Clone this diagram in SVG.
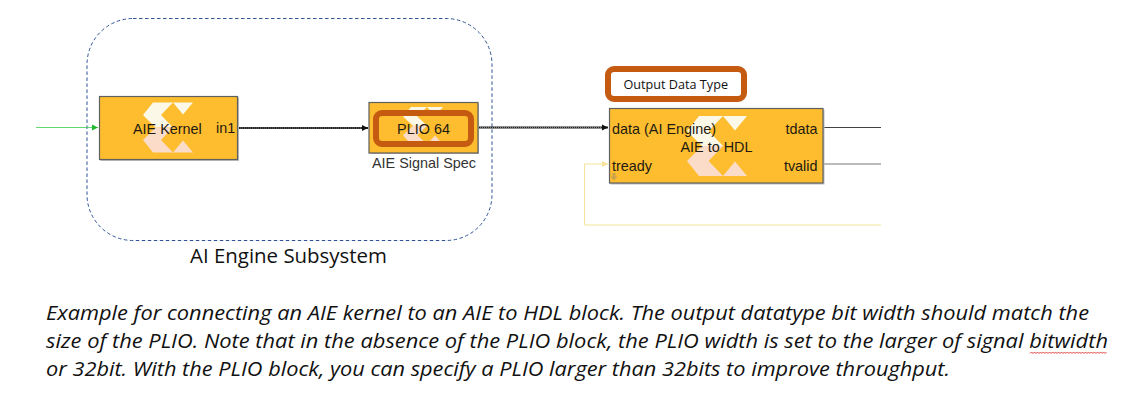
<svg xmlns="http://www.w3.org/2000/svg" width="1148" height="404" viewBox="0 0 1148 404">
<style>
.block{fill:#fdbd2f;stroke:#5f5f5f;stroke-width:1.2}
.shadow{fill:#bdbdbd}
.lbl{font-family:"Liberation Sans",Arial,sans-serif;font-size:14.4px;fill:#1f1a10}
.hl{fill:none;stroke:#c55a11;stroke-width:6}
.para{font-family:"Open Sans","Noto Sans",sans-serif;font-style:italic;font-size:19.5px;fill:#111}
.cal{font-family:"Open Sans","Noto Sans",sans-serif;fill:#111}
.wire{fill:none;stroke:#222;stroke-width:1.8}
.dots{fill:none;stroke:#aaa;stroke-width:.7;stroke-dasharray:1 1}
</style>
<defs>
<marker id="ab" markerWidth="7" markerHeight="7" refX="6" refY="3.500" orient="auto" markerUnits="userSpaceOnUse"><path d="M0 .5L6 3.500L0 6.500z" fill="#111"/></marker>
<marker id="ag" markerWidth="7" markerHeight="7" refX="6" refY="3.500" orient="auto" markerUnits="userSpaceOnUse"><path d="M0 .5L6 3.500L0 6.500z" fill="#22b530"/></marker>
<marker id="ay" markerWidth="7" markerHeight="7" refX="6" refY="3.500" orient="auto" markerUnits="userSpaceOnUse"><path d="M0 .5L6 3.500L0 6.500z" fill="#f5e39a"/></marker>
<g id="logo">
<path d="M10 0H30L18 12.500L30 25H12.500L0 12.500z" fill="#fbf8e8"/>
<path d="M30 0H50L40 12z" fill="#fbf8e8"/>
<path d="M12.500 25H30L18 37.500L30 50H10L0 37.500z" fill="#fbdcc8"/>
<path d="M40 38L50 50H30z" fill="#fbdcc8"/>
</g>
</defs>
<rect width="1148" height="404" fill="#fff"/>
<rect id="subsystem" x="87" y="18.500" width="405" height="222" rx="46" fill="none" stroke="#2f5597" stroke-width="1" stroke-dasharray="3.500 2.500"/>
<g id="connectors">
<path d="M36 127.500H98" fill="none" stroke="#3ccf4e" stroke-width=".8" marker-end="url(#ag)"/>
<path class="wire" d="M238 128H368" marker-end="url(#ab)"/>
<path class="dots" d="M238 128H362"/>
<path class="wire" d="M478 127.500H608" marker-end="url(#ab)"/>
<path class="dots" d="M478 127.500H602"/>
<path d="M823 127.500H881" fill="none" stroke="#444" stroke-width="1"/>
<path d="M823 164H881" fill="none" stroke="#777" stroke-width="1"/>
<path d="M881 225H584.500V164H608" fill="none" stroke="#f5e39a" stroke-width="1" marker-end="url(#ay)"/>
</g>
<g id="aie-kernel">
<rect class="shadow" x="100.500" y="97.500" width="138.500" height="63.500"/>
<rect class="block" x="99.500" y="96.500" width="138" height="63"/>
<use href="#logo" x="143" y="102.500"/>
<text class="lbl" x="133" y="134">AIE Kernel</text>
<text class="lbl" x="216" y="133">in1</text>
</g>
<g id="aie-signal-spec">
<rect class="shadow" x="370" y="103.500" width="109" height="50.500"/>
<rect class="block" x="369" y="102.500" width="109" height="50.500"/>
<use href="#logo" transform="translate(403 107) scale(.8 .75)"/>
<rect class="hl" x="376" y="113" width="95" height="31" rx="6"/>
<text class="lbl" x="423.500" y="134" text-anchor="middle">PLIO 64</text>
<text class="lbl" x="424" y="168" text-anchor="middle" style="fill:#333">AIE Signal Spec</text>
</g>
<g id="aie-to-hdl">
<rect class="shadow" x="610.500" y="109.500" width="214" height="75"/>
<rect class="block" x="609.500" y="108.500" width="213.500" height="74.500"/>
<use href="#logo" transform="translate(687 116) scale(1.2)"/>
<text class="lbl" x="612" y="134">data (AI Engine)</text>
<text class="lbl" x="716.500" y="152" text-anchor="middle">AIE to HDL</text>
<text class="lbl" x="612" y="171">tready</text>
<text class="lbl" x="817.500" y="134" text-anchor="end">tdata</text>
<text class="lbl" x="817.500" y="171" text-anchor="end">tvalid</text>
<path d="M612.500 173h3v3.500h2l-3.500 4l-3.500-4h2z" fill="#c9a24a"/>
</g>
<g id="output-data-type">
<rect class="hl" x="608" y="69" width="136" height="30" rx="6" style="fill:#fff"/>
<text class="cal" x="623.500" y="89" font-size="13" textLength="104.500" lengthAdjust="spacingAndGlyphs">Output Data Type</text>
</g>
<text class="cal" x="190" y="263" font-size="20" textLength="197" lengthAdjust="spacingAndGlyphs">AI Engine Subsystem</text>
<text class="para" x="46" y="320" textLength="1043" lengthAdjust="spacingAndGlyphs">Example for connecting an AIE kernel to an AIE to HDL block. The output datatype bit width should match the</text>
<text class="para" x="46" y="348" textLength="1062" lengthAdjust="spacingAndGlyphs">size of the PLIO. Note that in the absence of the PLIO block, the PLIO width is set to the larger of signal bitwidth</text>
<text class="para" x="46" y="375.500" textLength="904" lengthAdjust="spacingAndGlyphs">or 32bit. With the PLIO block, you can specify a PLIO larger than 32bits to improve throughput.</text>
<path d="M1030 353.500l1.500-1.500l1.500 1.500l1.500-1.500l1.500 1.500l1.500-1.500l1.500 1.500l1.500-1.500l1.500 1.500l1.500-1.500l1.500 1.500l1.500-1.500l1.500 1.500l1.500-1.500l1.500 1.500l1.500-1.500l1.500 1.500l1.500-1.500l1.500 1.500l1.500-1.500l1.500 1.500l1.500-1.500l1.500 1.500l1.500-1.500l1.500 1.500l1.500-1.500l1.500 1.500l1.500-1.500l1.500 1.500l1.500-1.500l1.500 1.500l1.500-1.500l1.500 1.500l1.500-1.500l1.500 1.500l1.500-1.500l1.500 1.500l1.500-1.500l1.500 1.500l1.500-1.500l1.500 1.500l1.500-1.500l1.500 1.500l1.500-1.500l1.500 1.500l1.500-1.500l1.500 1.500l1.500-1.500l1.500 1.500l1.500-1.500l1.500 1.500l1.500-1.500" fill="none" stroke="#e04040" stroke-width="1"/>
</svg>
